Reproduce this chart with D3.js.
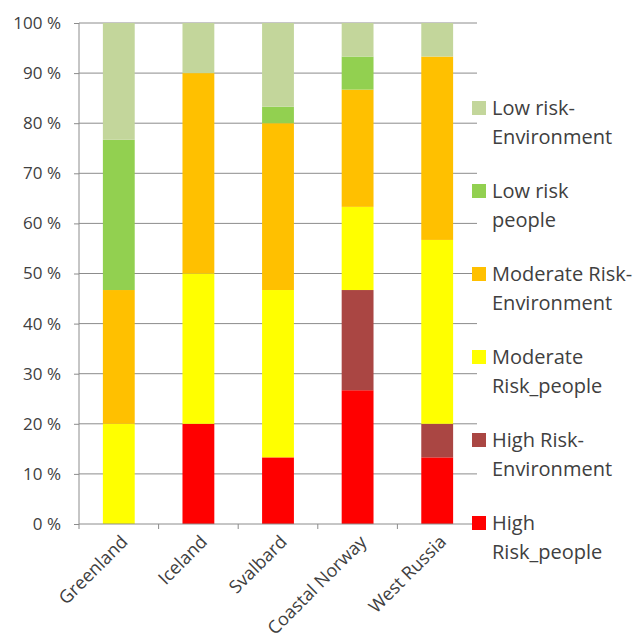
<!DOCTYPE html>
<html>
<head>
<meta charset="utf-8">
<script src="https://cdn.jsdelivr.net/npm/d3@7"></script>
<style>
  body { margin: 0; background: #fff; }
  text { font-family: "Open Sans", sans-serif; fill: #404040; }
</style>
</head>
<body>
<div id="chart"></div>
<script>
// data (percent of each region, bottom to top)
var regions = ["Greenland", "Iceland", "Svalbard", "Coastal Norway", "West Russia"];
var seriesNames = ["High Risk_people", "High Risk-Environment", "Moderate Risk_people",
                   "Moderate Risk-Environment", "Low risk people", "Low risk-Environment"];
var highPeople   = [0, 20, 13.3, 26.7, 13.3];
var highEnv      = [0, 0, 0, 20, 6.7];
var modPeople    = [20, 30, 33.4, 16.6, 36.7];
var modEnv       = [26.7, 40, 33.3, 23.4, 36.6];
var lowPeople    = [30, 0, 3.3, 6.6, 0];
var lowEnv       = [23.3, 10, 16.7, 6.7, 6.7];
var yTicks = [0, 10, 20, 30, 40, 50, 60, 70, 80, 90, 100];

var colors = ["#ff0000", "#aa4643", "#ffff00", "#ffc000", "#92d050", "#c3d69b"];
var legendLines = [["High", "Risk_people"], ["High Risk-", "Environment"], ["Moderate", "Risk_people"],
                   ["Moderate Risk-", "Environment"], ["Low risk", "people"], ["Low risk-", "Environment"]];

var table = regions.map(function(r, i) {
  return {region: r, s0: highPeople[i], s1: highEnv[i], s2: modPeople[i],
          s3: modEnv[i], s4: lowPeople[i], s5: lowEnv[i]};
});
var keys = ["s0", "s1", "s2", "s3", "s4", "s5"];

var margin = {top: 23, left: 79},
    width = 398,
    height = 501;

var svg = d3.select("#chart")
  .append("svg")
    .attr("width", 643)
    .attr("height", 639)
  .append("g")
    .attr("transform", "translate(" + margin.left + "," + margin.top + ")");

var x = d3.scaleBand()
  .domain(regions)
  .range([0, width])
  .paddingInner(0.6)
  .paddingOuter(0.3);

var y = d3.scaleLinear()
  .domain([0, 100])
  .range([height, 0]);

// gridlines
svg.selectAll("grid")
  .data(yTicks.slice(1))
  .enter()
  .append("line")
    .attr("x1", 0)
    .attr("x2", width)
    .attr("y1", function(d) { return y(d); })
    .attr("y2", function(d) { return y(d); })
    .attr("stroke", "#8c8c8c")
    .attr("stroke-width", 1);

// stacked bars
var stack = d3.stack().keys(keys)(table);
svg.selectAll("layer")
  .data(stack)
  .enter()
  .append("g")
    .attr("fill", function(d, i) { return colors[i]; })
  .selectAll("rect")
  .data(function(d) { return d; })
  .enter()
  .append("rect")
    .attr("x", function(d) { return x(d.data.region); })
    .attr("width", x.bandwidth())
    .attr("y", function(d) { return y(d[1]); })
    .attr("height", function(d) { return y(d[0]) - y(d[1]); });

// y axis
var yAxis = svg.append("g")
  .call(d3.axisLeft(y).tickValues(yTicks).tickSize(5).tickPadding(13)
    .tickFormat(function(d) { return d + " %"; }));
yAxis.selectAll("text").style("font-size", "17px").attr("fill", "#404040");
yAxis.selectAll("line").attr("stroke", "#8c8c8c");
yAxis.select(".domain").attr("stroke", "#8c8c8c").attr("d", "M0,0V" + height);

// x axis
var xAxis = svg.append("g")
  .attr("transform", "translate(0," + height + ")")
  .call(d3.axisBottom(x).tickSize(0).tickPadding(0));
xAxis.select(".domain").attr("stroke", "#8c8c8c").attr("d", "M0,0H" + width);
xAxis.selectAll("text")
  .style("font-size", "18px")
  .attr("fill", "#404040")
  .style("text-anchor", "end")
  .attr("dy", null)
  .attr("transform", "translate(10,19)rotate(-45)");
// category separator ticks
var step = width / regions.length;
svg.selectAll("xtick")
  .data(d3.range(regions.length + 1))
  .enter()
  .append("line")
    .attr("x1", function(d) { return d * step; })
    .attr("x2", function(d) { return d * step; })
    .attr("y1", height)
    .attr("y2", height + 5)
    .attr("stroke", "#8c8c8c");

// legend (top to bottom: reversed order)
var legend = svg.selectAll("legend")
  .data(d3.range(seriesNames.length).reverse())
  .enter()
  .append("g")
    .attr("transform", function(d, i) { return "translate(393," + (85 + i * 83) + ")"; });
legend.append("rect")
  .attr("x", 0)
  .attr("y", -7)
  .attr("width", 14)
  .attr("height", 14)
  .attr("fill", function(d) { return colors[d]; });
legend.append("text")
  .attr("x", 20)
  .style("font-size", "20px")
  .selectAll("tspan")
  .data(function(d) { return legendLines[d]; })
  .enter()
  .append("tspan")
    .attr("x", 20)
    .attr("y", function(d, i) { return 7 + i * 29; })
    .text(function(d) { return d; });
</script>
</body>
</html>
